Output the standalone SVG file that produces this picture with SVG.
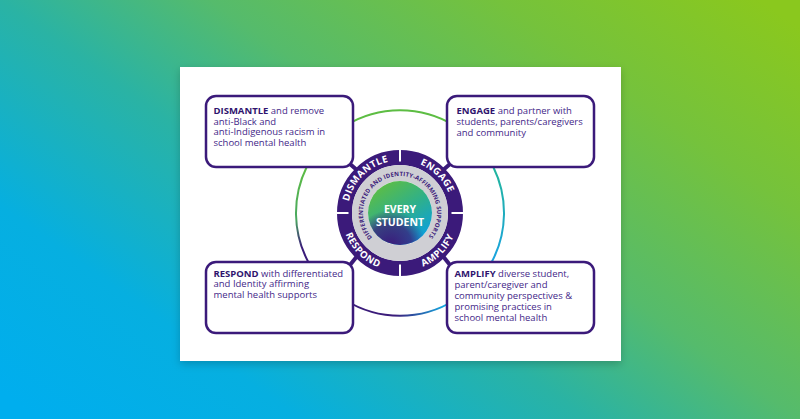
<svg xmlns="http://www.w3.org/2000/svg" width="800" height="419" viewBox="0 0 800 419">
<defs>
<style>
.box{fill:#fff;stroke:#3b1a7a;stroke-width:2.5}
.txt{font-family:"Open Sans","Liberation Sans",sans-serif;font-size:9.5px;fill:#432788}
.b{font-weight:700;fill:#2f146e}
.ring{font-family:"Open Sans","Liberation Sans",sans-serif;font-weight:700;font-size:9.6px;fill:#fff;letter-spacing:0.4px}
.gray{font-family:"Open Sans","Liberation Sans",sans-serif;font-weight:700;font-size:6px;fill:#3b1a7a;letter-spacing:0.15px}
.arc{fill:none;stroke-width:2}
.link{stroke:#3b1a7a;stroke-width:4;stroke-linecap:round}
.gap{stroke:#fff;stroke-width:2}
</style>
<linearGradient id="bg" gradientUnits="userSpaceOnUse" x1="180" y1="520" x2="620" y2="-100">
<stop offset="0" stop-color="#00aeee"/>
<stop offset="0.2" stop-color="#06afe0"/>
<stop offset="0.42" stop-color="#2ab3a4"/>
<stop offset="0.58" stop-color="#55bb6c"/>
<stop offset="0.8" stop-color="#75c23c"/>
<stop offset="1" stop-color="#8ac81e"/>
</linearGradient>
<linearGradient id="gLeft" gradientUnits="userSpaceOnUse" x1="0" y1="167" x2="0" y2="262">
<stop offset="0" stop-color="#5dbd43"/>
<stop offset="0.55" stop-color="#4aa860"/>
<stop offset="0.85" stop-color="#3b1c7a"/>
</linearGradient>
<linearGradient id="gRight" gradientUnits="userSpaceOnUse" x1="0" y1="167" x2="0" y2="262">
<stop offset="0" stop-color="#22b59c"/>
<stop offset="1" stop-color="#1aa3e0"/>
</linearGradient>
<linearGradient id="gBottom" gradientUnits="userSpaceOnUse" x1="395" y1="0" x2="445" y2="0">
<stop offset="0" stop-color="#3b1c7a"/>
<stop offset="1" stop-color="#15abe2"/>
</linearGradient>
<linearGradient id="core" x1="0.2" y1="0.05" x2="0.8" y2="0.95">
<stop offset="0" stop-color="#5dbd45"/>
<stop offset="0.5" stop-color="#2fb08a"/>
<stop offset="1" stop-color="#0a9fe0"/>
</linearGradient>
<radialGradient id="coreP" cx="0.35" cy="1" r="0.55">
<stop offset="0" stop-color="#3b1c7a" stop-opacity="1"/>
<stop offset="0.6" stop-color="#3b1c7a" stop-opacity="0.75"/>
<stop offset="1" stop-color="#3b1c7a" stop-opacity="0"/>
</radialGradient>
<filter id="sh" x="-10%" y="-10%" width="120%" height="125%">
<feDropShadow dx="0" dy="3" stdDeviation="4" flood-color="#000" flood-opacity="0.2"/>
</filter>
<path id="topArc" d="M347.5,213 A52.5,52.5 0 0 1 452.5,213"/>
<path id="botArc" d="M341.5,213 A58.5,58.5 0 0 0 458.5,213"/>
<path id="grayArc" d="M374.30,239.61 A37,37 0 1 1 426.61,238.70"/>
</defs>

<rect width="800" height="419" fill="url(#bg)"/>
<rect x="180" y="67" width="441" height="294" fill="#fff" filter="url(#sh)"/>

<g id="connectors">
<path class="arc" stroke="#5dbd43" d="M345,126 A104,104 0 0 1 455,126"/>
<path class="arc" stroke="url(#gLeft)" d="M306.7,167 A104,104 0 0 0 308.3,262"/>
<path class="arc" stroke="url(#gRight)" d="M493.3,167 A104,104 0 0 1 491.7,262"/>
<path class="arc" stroke="url(#gBottom)" d="M345,300 A104,104 0 0 0 455,300"/>
<line class="link" x1="350" y1="164" x2="358" y2="171"/>
<line class="link" x1="450" y1="164" x2="442" y2="171"/>
<line class="link" x1="350" y1="265" x2="358" y2="255"/>
<line class="link" x1="450" y1="265" x2="442" y2="255"/>
</g>

<g id="dismantle-box">
<rect class="box" x="206" y="96" width="147" height="71" rx="10"/>
<text class="txt" x="213.5" y="114"><tspan class="b">DISMANTLE</tspan> and remove</text>
<text class="txt" x="213.5" y="124.5">anti-Black and</text>
<text class="txt" x="213.5" y="135">anti-Indigenous racism in</text>
<text class="txt" x="213.5" y="145.5">school mental health</text>
</g>

<g id="engage-box">
<rect class="box" x="447" y="96" width="147" height="71" rx="10"/>
<text class="txt" x="456.5" y="114"><tspan class="b">ENGAGE</tspan> and partner with</text>
<text class="txt" x="456.5" y="124.8">students, parents/caregivers</text>
<text class="txt" x="456.5" y="135.6">and community</text>
</g>

<g id="respond-box">
<rect class="box" x="206" y="262" width="147" height="71" rx="10"/>
<text class="txt" x="213.5" y="276.7"><tspan class="b">RESPOND</tspan> with differentiated</text>
<text class="txt" x="213.5" y="287.2">and Identity affirming</text>
<text class="txt" x="213.5" y="297.7">mental health supports</text>
</g>

<g id="amplify-box">
<rect class="box" x="447" y="262" width="147" height="71" rx="10"/>
<text class="txt" x="454.5" y="276.7"><tspan class="b">AMPLIFY</tspan> diverse student,</text>
<text class="txt" x="454.5" y="287.7">parent/caregiver and</text>
<text class="txt" x="454.5" y="298.7">community perspectives &amp;</text>
<text class="txt" x="454.5" y="309.7">promising practices in</text>
<text class="txt" x="454.5" y="320.7">school mental health</text>
</g>

<g id="hub">
<circle cx="400" cy="213" r="55.5" fill="none" stroke="#3b1a7a" stroke-width="15"/>
<circle cx="400" cy="213" r="40" fill="none" stroke="#cfcfd4" stroke-width="16"/>
<line class="gap" x1="335" y1="213" x2="348.5" y2="213"/>
<line class="gap" x1="451.5" y1="213" x2="465" y2="213"/>
<line class="gap" x1="400" y1="148" x2="400" y2="161.5"/>
<line class="gap" x1="400" y1="264.5" x2="400" y2="278"/>
<text class="ring"><textPath href="#topArc" startOffset="25%" text-anchor="middle">DISMANTLE</textPath></text>
<text class="ring"><textPath href="#topArc" startOffset="75%" text-anchor="middle">ENGAGE</textPath></text>
<text class="ring"><textPath href="#botArc" startOffset="25%" text-anchor="middle">RESPOND</textPath></text>
<text class="ring"><textPath href="#botArc" startOffset="75%" text-anchor="middle">AMPLIFY</textPath></text>
<text class="gray"><textPath href="#grayArc" startOffset="50%" text-anchor="middle">DIFFERENTIATED AND IDENTITY-AFFIRMING SUPPORTS</textPath></text>
</g>

<g id="every-student">
<circle cx="400" cy="213" r="32" fill="url(#core)"/>
<circle cx="400" cy="213" r="32" fill="url(#coreP)"/>
<text x="400" y="213" text-anchor="middle" font-family="'Open Sans','Liberation Sans',sans-serif" font-weight="700" font-size="10.5" fill="#fff">EVERY</text>
<text x="400" y="225.5" text-anchor="middle" font-family="'Open Sans','Liberation Sans',sans-serif" font-weight="700" font-size="10.5" fill="#fff">STUDENT</text>
</g>
</svg>
